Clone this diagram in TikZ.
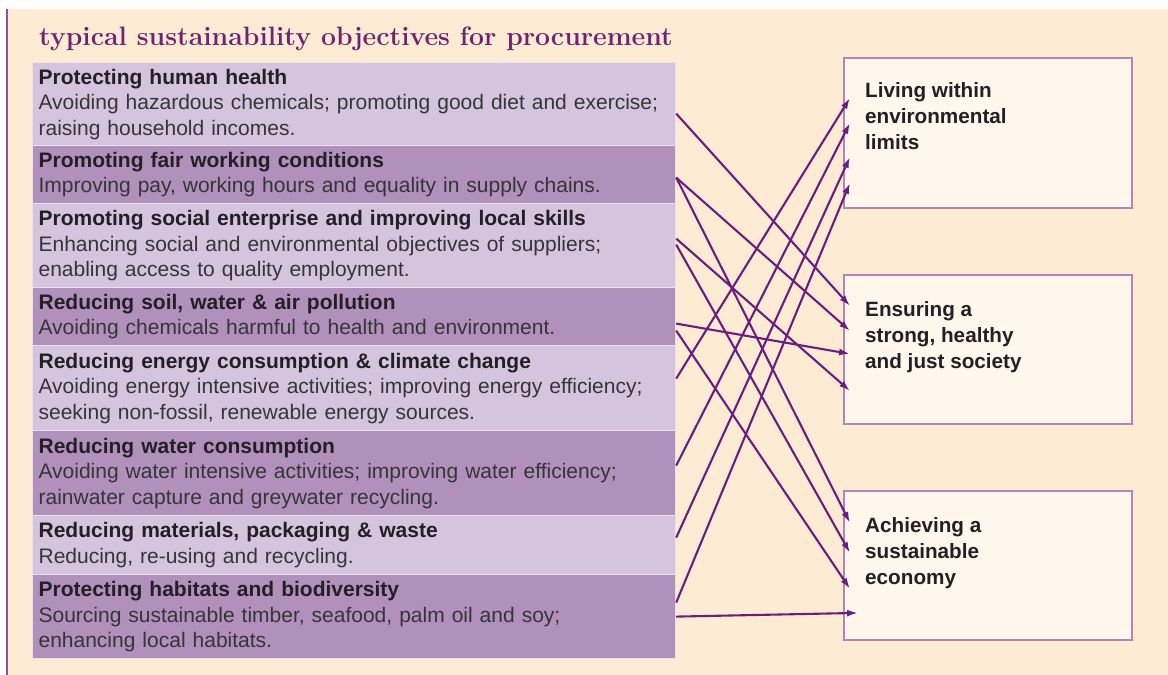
\documentclass[tikz,border=0pt]{standalone}
\usepackage{fontspec}
\newfontfamily\rowfont{Liberation Sans}
\usetikzlibrary{arrows.meta,calc}
\definecolor{cCream}{HTML}{FDEBD4}
\definecolor{cLight}{HTML}{D5C4DD}
\definecolor{cDark}{HTML}{B190BB}
\definecolor{cEdge}{HTML}{EDE2EC}
\definecolor{cBoxFill}{HTML}{FFF7EC}
\definecolor{cBoxLine}{HTML}{B384B8}
\definecolor{cArrow}{HTML}{6C1C7F}
\definecolor{cTitle}{HTML}{6E2373}
\definecolor{cLine}{HTML}{934F9E}
\definecolor{cHead}{HTML}{222024}
\definecolor{cBody}{HTML}{353537}
\begin{document}
\begin{tikzpicture}[x=1pt,y=-1pt,
  rowbox/.style={draw=cEdge, line width=1.2pt, anchor=north west,
    minimum width=643pt, text width=631pt, inner xsep=6pt, inner ysep=0pt,
    align=left, font=\rowfont\fontsize{21}{25.5}\selectfont, text=cBody},
  rowL/.style={rowbox, fill=cLight},
  rowD/.style={rowbox, fill=cDark},
  objbox/.style={draw=cBoxLine, line width=1.8pt, fill=cBoxFill, anchor=north west,
    minimum width=288pt, inner sep=0pt},
  objtext/.style={anchor=north west, inner sep=0pt, align=left, text=cHead,
    font=\rowfont\bfseries\fontsize{20.7}{26}\selectfont},
  arr/.style={draw=cArrow, line width=2.1pt, -{Latex[length=11pt,width=7pt]}}
]
\useasboundingbox (0,0) rectangle (1168,675);
\fill[cCream] (8,9) rectangle (1168,675);
\draw[cLine, line width=2.2pt] (7,9) -- (7,675);

\node[anchor=base west, inner sep=0pt, text=cTitle, font=\fontsize{26.6}{30}\selectfont\bfseries] (title) at (39,45) {typical sustainability objectives for procurement};

\newcommand\hdl[1]{{\bfseries\color{cHead}#1}}
\node[rowL, minimum height=83pt] (r1) at (32,62) {\hdl{Protecting human health}\\\mbox{Avoiding hazardous chemicals; promoting good diet and exercise;}\\raising household incomes.};
\node[rowD, minimum height=58pt] (r2) at (32,145) {\hdl{Promoting fair working conditions}\\\mbox{Improving pay, working hours and equality in supply chains.}};
\node[rowL, minimum height=84pt] (r3) at (32,203) {\hdl{Promoting social enterprise and improving local skills}\\\mbox{Enhancing social and environmental objectives of suppliers;}\\enabling access to quality employment.};
\node[rowD, minimum height=58pt] (r4) at (32,287) {\hdl{Reducing soil, water \& air pollution}\\\mbox{Avoiding chemicals harmful to health and environment.}};
\node[rowL, minimum height=85pt] (r5) at (32,345) {\hdl{Reducing energy consumption \& climate change}\\\mbox{Avoiding energy intensive activities; improving energy efficiency;}\\seeking non-fossil, renewable energy sources.};
\node[rowD, minimum height=85pt] (r6) at (32,430) {\hdl{Reducing water consumption}\\\mbox{Avoiding water intensive activities; improving water efficiency;}\\rainwater capture and greywater recycling.};
\node[rowL, minimum height=59pt] (r7) at (32,515) {\hdl{Reducing materials, packaging \& waste}\\Reducing, re-using and recycling.};
\node[rowD, minimum height=84pt] (r8) at (32,574) {\hdl{Protecting habitats and biodiversity}\\\mbox{Sourcing sustainable timber, seafood, palm oil and soy;}\\enhancing local habitats.};

\node[objbox, minimum height=150pt] (A) at (843,57) {};
\node[objbox, minimum height=149pt] (B) at (843,274) {};
\node[objbox, minimum height=149pt] (C) at (843,490) {};
\node[objtext] (At) at ($(A.north west)+(22,25)$) {Living within\\environmental\\limits};
\node[objtext] (Bt) at ($(B.north west)+(22,27)$) {Ensuring a\\strong, healthy\\and just society};
\node[objtext] (Ct) at ($(C.north west)+(22,27)$) {Achieving a\\sustainable\\economy};

\draw[arr] ($(r1.east)+(0,9.5)$) -- ($(B.west)+(7,-43.5)$);
\draw[arr] ($(r2.east)+(0,3)$) -- ($(B.west)+(7,-18.5)$);
\draw[arr] ($(r2.east)+(0,3)$) -- ($(C.west)+(7,-42.5)$);
\draw[arr] ($(r3.east)+(0,-7)$) -- ($(B.west)+(7,41.5)$);
\draw[arr] ($(r3.east)+(0,-1)$) -- ($(C.west)+(7,-12.5)$);
\draw[arr] ($(r4.east)+(0,7)$) -- ($(B.west)+(7,4.5)$);
\draw[arr] ($(r4.east)+(0,14)$) -- ($(C.west)+(7,23.5)$);
\draw[arr] ($(r5.east)+(0,-9.5)$) -- ($(A.west)+(7,-35)$);
\draw[arr] ($(r6.east)+(0,-7.5)$) -- ($(A.west)+(7,-10)$);
\draw[arr] ($(r7.east)+(0,-7.5)$) -- ($(A.west)+(7,24)$);
\draw[arr] ($(r8.east)+(0,-14)$) -- ($(A.west)+(7,50)$);
\draw[arr] ($(r8.east)+(0,0)$) -- ($(C.west)+(15,47.5)$);
\end{tikzpicture}
\end{document}
